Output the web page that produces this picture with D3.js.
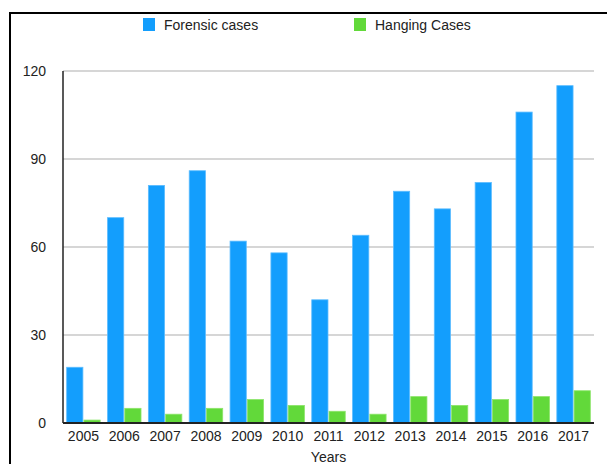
<!DOCTYPE html>
<html><head><meta charset="utf-8">
<script src="https://cdn.jsdelivr.net/npm/d3@7"></script>
<style>body{margin:0;background:#fff;}svg{display:block;font-family:"Liberation Sans",Arial,sans-serif;}</style>
</head><body>
<svg id="c" width="607" height="464"></svg>
<script>
const years = ["2005","2006","2007","2008","2009","2010","2011","2012","2013","2014","2015","2016","2017"];
const forensic = [19,70,81,86,62,58,42,64,79,73,82,106,115];
const hanging = [1,5,3,5,8,6,4,3,9,6,8,9,11];
const seriesNames = ["Forensic cases","Hanging Cases"];
const colors = ["#139EFD","#62D93A"];
const yTicks = [0,30,60,90,120];

const svg = d3.select("#c");
// frame
svg.append("rect").attr("x",10).attr("y",13).attr("width",620).attr("height",480)
  .attr("fill","none").attr("stroke","#000").attr("stroke-width",2);

const m = {l:63, r:594, t:71, b:423};
const x = d3.scaleBand().domain(years).range([m.l,m.r]).paddingInner(0.18).paddingOuter(0.09);
const xs = d3.scaleBand().domain([0,1]).range([0,x.bandwidth()]).paddingInner(0.06);
const y = d3.scaleLinear().domain([0,120]).range([m.b,m.t]);

// gridlines
svg.append("g").selectAll("line").data(yTicks.filter(d=>d>0)).join("line")
  .attr("x1",m.l).attr("x2",m.r).attr("y1",d=>y(d)).attr("y2",d=>y(d))
  .attr("stroke","#c8c8c8").attr("stroke-width",1.5);

// y labels
const yAxis = d3.axisLeft(y).tickValues(yTicks).tickSize(0).tickPadding(17);
const ya = svg.append("g").attr("transform",`translate(${m.l},0)`).call(yAxis);
ya.select(".domain").remove();
ya.selectAll("text").attr("font-size",14).attr("fill","#222").attr("font-family","Liberation Sans, Arial, sans-serif");

// bars
const data = years.map((yr,i)=>({yr, v:[forensic[i],hanging[i]]}));
const g = svg.append("g");
data.forEach(d=>{
  d.v.forEach((v,j)=>{
    g.append("rect").attr("x",x(d.yr)+xs(j)).attr("width",xs.bandwidth())
      .attr("y",y(v)).attr("height",y(0)-y(v)).attr("fill",colors[j])
      .attr("stroke",j===0?"#5cbcff":"#8de46a").attr("stroke-width",0.8);
  });
});

// axes lines
svg.append("line").attr("x1",m.l).attr("x2",m.l).attr("y1",m.t).attr("y2",m.b).attr("stroke","#222").attr("stroke-width",1.5);
svg.append("line").attr("x1",m.l).attr("x2",m.r).attr("y1",m.b).attr("y2",m.b).attr("stroke","#222").attr("stroke-width",2);

// x labels
const xAxis = d3.axisBottom(x).tickSize(0).tickPadding(8);
const xa = svg.append("g").attr("transform",`translate(0,${m.b})`).call(xAxis);
xa.select(".domain").remove();
xa.selectAll("text").attr("font-size",14).attr("fill","#222").attr("font-family","Liberation Sans, Arial, sans-serif");

svg.append("text").attr("x",(m.l+m.r)/2).attr("y",462).attr("text-anchor","middle")
  .attr("font-size",14).attr("fill","#222").text("Years");

// legend
const legX = [143,354];
seriesNames.forEach((n,i)=>{
  svg.append("rect").attr("x",legX[i]).attr("y",18).attr("width",12).attr("height",13).attr("fill",colors[i]);
  svg.append("text").attr("x",legX[i]+21).attr("y",30).attr("font-size",14).attr("fill","#222").text(n);
});
</script>
</body></html>
